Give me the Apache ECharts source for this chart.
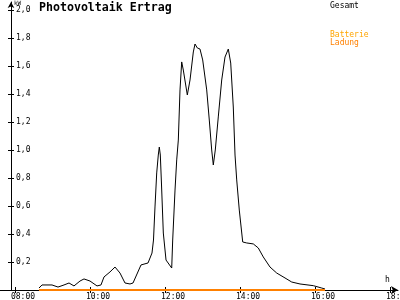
<!DOCTYPE html>
<html><head><meta charset="utf-8">
<script src="https://cdn.jsdelivr.net/npm/echarts@6/dist/echarts.min.js"></script>
<style>html,body{margin:0;padding:0;background:#fff}#c{width:400px;height:300px}</style>
</head><body><div id="c"></div>
<script>
// Gesamt (total PV output): time in decimal hours, power in kW
var gesamtTime = [8.64,8.72,8.987,9.147,9.307,9.44,9.573,9.733,9.84,10.0,10.187,10.293,10.373,10.533,10.667,10.8,10.933,11.067,11.147,11.36,11.547,11.653,11.693,11.733,11.779,11.821,11.848,11.875,11.907,11.955,12.027,12.179,12.205,12.267,12.312,12.355,12.4,12.445,12.488,12.595,12.667,12.755,12.8,12.861,12.933,13.005,13.112,13.181,13.245,13.288,13.341,13.421,13.512,13.6,13.688,13.752,13.821,13.867,13.912,13.981,14.072,14.179,14.355,14.488,14.621,14.8,14.979,15.2,15.379,15.6,15.955,16.179,16.267];
var gesamtKW = [0.014,0.036,0.036,0.021,0.036,0.05,0.029,0.064,0.079,0.064,0.029,0.036,0.093,0.129,0.164,0.121,0.05,0.043,0.05,0.179,0.193,0.264,0.357,0.593,0.836,0.964,1.021,0.964,0.75,0.407,0.214,0.157,0.357,0.714,0.929,1.071,1.429,1.629,1.571,1.393,1.5,1.7,1.757,1.729,1.721,1.643,1.429,1.214,1.0,0.893,1.0,1.236,1.5,1.664,1.721,1.621,1.307,0.964,0.786,0.571,0.343,0.336,0.329,0.3,0.236,0.164,0.121,0.086,0.057,0.043,0.031,0.014,0.007];
// Batterie Ladung (battery charging)
var ladungTime = [8.64,16.267];
var ladungKW = [0,0];
// Axis ticks
var xTicks = [8,10,12,14,16,18];
var yTicks = [0.2,0.4,0.6,0.8,1.0,1.2,1.4,1.6,1.8,2.0];

var X_MIN = 7.6, X_MAX = 18.213, Y_MAX = 2.057;
var LABEL_SHIFT = 0.107;

function pairs(t, v){ var out=[]; for(var i=0;i<t.length;i++) out.push([t[i], v[i]]); return out; }
function pad(n){ return (n<10?'0':'')+n; }

var FONT = 'DejaVu Sans Mono';
var chart = echarts.init(document.getElementById('c'), null, {renderer:'canvas'});
chart.setOption({
  animation:false,
  backgroundColor:'#fff',
  textStyle:{fontFamily:FONT},
  title:[
    {text:'Photovoltaik Ertrag', left:39, top:2, padding:0, textStyle:{fontFamily:FONT, fontWeight:'bold', fontSize:11.6, color:'#000'}},
    {text:'Gesamt', left:330, top:2, padding:0, textStyle:{fontFamily:FONT, fontWeight:'normal', fontSize:8, color:'#000'}},
    {text:'Batterie', left:330, top:31, padding:0, textStyle:{fontFamily:FONT, fontWeight:'normal', fontSize:8, color:'#FFA500'}},
    {text:'Ladung', left:330, top:39, padding:0, textStyle:{fontFamily:FONT, fontWeight:'normal', fontSize:8, color:'#FF8000'}},
    {text:'kW', left:14, top:0, padding:0, textStyle:{fontFamily:FONT, fontWeight:'normal', fontSize:6, color:'#000'}},
    {text:'h', left:385, top:276, padding:0, textStyle:{fontFamily:FONT, fontWeight:'normal', fontSize:8, color:'#000'}}
  ],
  grid:{left:0, right:2, top:2, bottom:10, containLabel:false, outerBoundsMode:'none'},
  xAxis:[
    {type:'value', min:X_MIN, max:X_MAX, position:'bottom',
     axisLine:{show:true, onZero:true, symbol:['none','arrow'], symbolSize:[6,7], lineStyle:{color:'#000', width:1}},
     axisTick:{show:true, inside:false, length:3, customValues:xTicks, lineStyle:{color:'#000'}},
     axisLabel:{show:true, customValues:xTicks.map(function(t){return t-LABEL_SHIFT;}), align:'left', margin:3,
       fontFamily:FONT, fontSize:8, color:'#000',
       formatter:function(v){ return pad(Math.round(v))+':00'; }},
     splitLine:{show:false}},
    {type:'value', min:X_MIN, max:X_MAX, position:'bottom',
     axisLine:{show:false},
     axisTick:{show:true, inside:true, length:3, customValues:xTicks, lineStyle:{color:'#000'}},
     axisLabel:{show:false}, splitLine:{show:false}}
  ],
  yAxis:[
    {type:'value', min:0, max:Y_MAX, position:'left', offset:-11,
     axisLine:{show:true, onZero:false, symbol:['none','arrow'], symbolSize:[5,6], lineStyle:{color:'#000', width:1}},
     axisTick:{show:true, inside:false, length:3, customValues:yTicks, lineStyle:{color:'#000'}},
     axisLabel:{show:true, inside:true, margin:5, customValues:yTicks, fontFamily:FONT, fontSize:8, color:'#000',
       formatter:function(v){ return v.toFixed(1).replace('.',','); }},
     splitLine:{show:false}},
    {type:'value', min:0, max:Y_MAX, position:'left', offset:-11,
     axisLine:{show:false, onZero:false},
     axisTick:{show:true, inside:true, length:3, customValues:yTicks, lineStyle:{color:'#000'}},
     axisLabel:{show:false}, splitLine:{show:false}}
  ],
  series:[
    {name:'Gesamt', type:'line', xAxisIndex:0, yAxisIndex:0, data:pairs(gesamtTime, gesamtKW),
     showSymbol:false, symbol:'none', lineStyle:{color:'#000', width:1}, z:3},
    {name:'Ladung', type:'line', xAxisIndex:0, yAxisIndex:0, data:pairs(ladungTime, ladungKW),
     showSymbol:false, symbol:'none', lineStyle:{color:'#FF8000', width:2}, z:4}
  ]
});
</script></body></html>
